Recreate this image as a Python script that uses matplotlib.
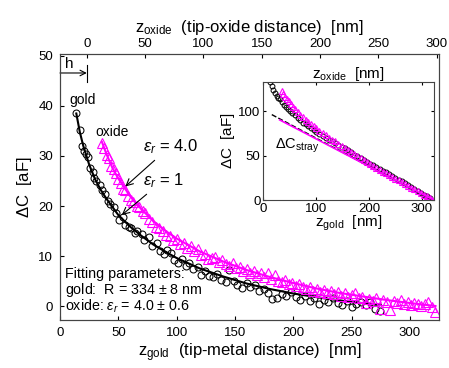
import matplotlib
matplotlib.use("Agg")
import matplotlib.pyplot as plt

plt.rcParams['font.family'] = ['Liberation Sans', 'DejaVu Sans']
plt.rcParams['mathtext.fontset'] = 'custom'
plt.rcParams['mathtext.rm'] = 'Liberation Sans'
plt.rcParams['mathtext.it'] = 'Liberation Sans:italic'
plt.rcParams['mathtext.bf'] = 'Liberation Sans:bold'

MAGENTA = '#ff00ff'

# main panel: measured points (z_gold in nm, dC in aF)
gold_x = [14, 17, 19, 21, 22, 24, 26, 28, 29, 31, 34, 36, 39, 41, 43, 46, 48, 51, 54, 56,
          59, 61, 64, 66, 70, 72, 76, 79, 83, 86, 89, 92, 95, 98, 101, 105, 108, 111, 114, 118,
          121, 124, 128, 131, 135, 138, 142, 145, 149, 152, 156, 160, 163, 167, 171, 175, 178, 182, 186, 190,
          194, 198, 202, 206, 210, 214, 218, 222, 226, 230, 234, 238, 242, 246, 250, 254, 258, 262, 266, 270, 274]
gold_y = [38.5, 35.2, 32.0, 31.0, 30.4, 29.8, 27.5, 26.8, 25.5, 25.0, 24.2, 23.2, 22.3, 21.0, 20.4, 19.8, 18.6, 17.2, 17.8, 16.2,
          15.9, 15.6, 14.6, 15.1, 14.4, 13.2, 13.8, 12.0, 12.6, 11.0, 10.4, 11.2, 10.6, 9.2, 8.6, 9.4, 8.0, 8.7, 7.4, 7.8,
          6.2, 7.0, 6.1, 5.8, 6.5, 5.2, 4.8, 7.3, 5.1, 4.2, 3.6, 4.6, 3.8, 4.2, 3.0, 3.5, 2.6, 1.4, 1.6, 2.4,
          2.0, 2.9, 1.8, 1.2, 2.1, 1.0, 1.6, 0.4, 1.2, 0.9, 1.6, 0.6, 0.2, 1.1, -0.2, 0.5, 0.9, 0.3, 0.8, -0.6, -0.9]

oxide_x = [36, 38, 40, 42, 44, 46, 48, 50, 52, 54, 56, 58, 61, 63, 66, 68, 71, 73, 76, 79,
           82, 85, 88, 91, 94, 97, 100, 103, 106, 109, 112, 115, 118, 121, 124, 127, 130, 133, 136, 139,
           142, 145, 148, 151, 154, 157, 160, 163, 166, 169, 172, 175, 178, 181, 184, 187, 190, 193, 196, 199,
           202, 205, 208, 211, 214, 217, 220, 223, 226, 229, 232, 235, 238, 241, 244, 247, 250, 253, 256, 259,
           262, 265, 268, 271, 274, 277, 280, 283, 286, 289, 292, 295, 298, 301, 304, 307, 310, 313, 316, 319, 322]
oxide_y = [32.6, 31.5, 30.2, 29.6, 28.0, 27.4, 26.6, 25.4, 24.6, 23.4, 23.2, 22.0, 21.2, 20.8, 20.0, 19.8, 19.0, 18.6, 17.5, 16.8,
           15.9, 15.6, 15.1, 14.3, 14.0, 13.2, 13.4, 12.4, 12.6, 11.6, 12.0, 11.0, 11.4, 10.2, 10.4, 9.4, 9.6, 9.9, 8.8, 9.2,
           8.4, 8.0, 8.6, 7.6, 7.9, 7.0, 7.4, 6.6, 7.0, 6.2, 6.6, 5.8, 6.6, 5.4, 6.2, 5.0, 4.8, 5.2, 4.4, 4.6,
           4.0, 4.4, 3.8, 3.4, 3.9, 3.0, 3.5, 2.8, 3.2, 2.6, 3.0, 2.4, 2.8, 2.0, 2.6, 1.8, 2.2, 2.6, 1.6, 1.8,
           0.6, 1.4, 1.0, 1.6, -0.6, 1.2, 0.8, -0.8, 1.0, 0.6, 1.2, 0.4, 0.8, 0.2, 0.6, 0.4, 0.0, 0.4, 0.8, -0.1, -1.1]

# fitted curves
gold_fit_x = [14, 17, 20, 25, 30, 35, 40, 50, 60, 70, 80, 90, 100, 120, 140, 160, 180, 200, 225, 250, 275]
gold_fit_y = [38.5, 34.8, 32.0, 28.3, 25.4, 23.2, 21.4, 18.2, 15.9, 14.0, 12.3, 10.9, 9.6, 7.5, 5.9, 4.5, 3.4, 2.5, 1.6, 0.8, 0.2]
oxide_fit_x = [36, 40, 45, 50, 60, 70, 80, 90, 100, 120, 140, 160, 180, 200, 220, 240, 260, 280, 300, 322]
oxide_fit_y = [32.8, 30.3, 27.6, 25.5, 22.0, 19.3, 17.0, 15.1, 13.5, 10.9, 8.9, 7.2, 5.8, 4.6, 3.5, 2.6, 1.9, 1.2, 0.6, 0.0]

# inset: raw data incl. stray capacitance
in_gold_x = [13, 16, 19, 22, 25, 28, 31, 35, 39, 43, 47, 51, 55, 60, 65, 70, 75, 80, 85, 90,
             95, 100, 106, 112, 118, 124, 130, 136, 142, 148, 154, 160, 166, 172, 178, 184, 190, 196, 202, 208,
             214, 220, 226, 232, 238, 244, 250, 256, 262, 268, 274, 280, 286, 292, 298, 304, 310, 316]
in_gold_y = [133, 128, 124, 120, 117, 115, 113, 110, 107, 105, 102, 100, 98, 95, 92, 90, 87, 85, 83, 81,
             79, 77, 74, 72, 70, 68, 66, 64, 62, 60, 58, 56, 54, 51, 49, 47, 45, 43, 41, 39,
             37, 35, 33, 31, 29, 27, 25, 23, 21, 19, 17, 15, 12, 10, 8, 6, 4, 2]
in_oxide_x = [35, 38, 41, 44, 48, 52, 56, 60, 65, 70, 75, 80, 85, 90, 95, 100, 106, 112, 118, 124,
              130, 136, 142, 148, 154, 160, 166, 172, 178, 184, 190, 196, 202, 208, 214, 220, 226, 232, 238, 244,
              250, 256, 262, 268, 274, 280, 286, 292, 298, 304, 310, 316, 320]
in_oxide_y = [122, 119, 116, 114, 111, 108, 105, 102, 99, 96, 93, 90, 88, 85, 83, 81, 78, 75, 73, 70,
              68, 66, 63, 61, 59, 56, 54, 52, 49, 47, 45, 43, 41, 38, 36, 34, 32, 30, 28, 26,
              24, 22, 20, 18, 16, 14, 12, 10, 8, 6, 4, 2, 0.5]
stray_gold_x = [16, 320]
stray_gold_y = [96, 0]
stray_oxide_x = [31, 322]
stray_oxide_y = [90, 0]

h_offset = 23  # z_oxide = z_gold - h

fig = plt.figure(figsize=(4.49, 3.68), dpi=100)
ax = fig.add_axes([0.1336, 0.1304, 0.8441, 0.7229])

ax.plot(gold_x, gold_y, 'o', mfc='none', mec='black', ms=5, mew=0.75)
ax.plot(gold_fit_x, gold_fit_y, '-', color='black', lw=1.5)
ax.plot(oxide_x, oxide_y, '^', mfc='none', mec=MAGENTA, ms=6.5, mew=0.8)
ax.plot(oxide_fit_x, oxide_fit_y, '-', color=MAGENTA, lw=1.5)

ax.set_xlim(0, 325)
ax.set_ylim(-2.8, 50.4)
ax.set_xticks([0, 50, 100, 150, 200, 250, 300])
ax.set_yticks([0, 10, 20, 30, 40, 50])
ax.tick_params(direction='in', labelsize=9.5, length=3, pad=5)
ax.set_xlabel("z$_{\\mathrm{gold}}$  (tip-metal distance)  [nm]", fontsize=12, labelpad=2)
ax.set_ylabel("$\\Delta$C  [aF]", fontsize=12, labelpad=3)

top = ax.twiny()
top.set_xlim(0 - h_offset, 325 - h_offset)
top.set_xticks([0, 50, 100, 150, 200, 250, 300])
top.tick_params(direction='in', labelsize=9.5, length=3, pad=3)
top.set_xlabel("z$_{\\mathrm{oxide}}$  (tip-oxide distance)  [nm]", fontsize=12, labelpad=4)

# h marker
ax.annotate("", xy=(h_offset, 46.6), xytext=(0, 46.6),
            arrowprops=dict(arrowstyle='->', color='black', lw=0.8, shrinkA=0, shrinkB=0))
ax.plot([h_offset, h_offset], [44.8, 48.2], color='black', lw=0.8)
ax.text(4, 47.0, "h", fontsize=11, va='bottom')

ax.text(8, 40.4, "gold", fontsize=10)
ax.text(30, 34.0, "oxide", fontsize=10)
ax.annotate("$\\varepsilon_r$ = 4.0", xy=(56, 23.9), xytext=(71, 31.0), fontsize=12,
            arrowprops=dict(arrowstyle='->', color='black', lw=0.8, shrinkA=2, shrinkB=0))
ax.annotate("$\\varepsilon_r$ = 1", xy=(53, 18.2), xytext=(71, 24.2), fontsize=12,
            arrowprops=dict(arrowstyle='->', color='black', lw=0.8, shrinkA=2, shrinkB=0))

ax.text(4, 5.6, "Fitting parameters:", fontsize=10.3)
ax.text(4, 2.4, "gold:  R = 334 $\\pm$ 8 nm", fontsize=10.3)
ax.text(4, -0.9, "oxide: $\\varepsilon_r$ = 4.0 $\\pm$ 0.6", fontsize=10.3)

# inset
ins = fig.add_axes([0.5865, 0.4565, 0.3801, 0.3215])
ins.plot(in_gold_x, in_gold_y, 'o', mfc='none', mec='black', ms=3.5, mew=0.7)
ins.plot(in_oxide_x, in_oxide_y, '^', mfc='none', mec=MAGENTA, ms=4.5, mew=0.8)
ins.plot(stray_gold_x, stray_gold_y, '--', color='black', lw=1.0)
ins.plot(stray_oxide_x, stray_oxide_y, '-', color=MAGENTA, lw=1.2)
ins.set_xlim(0, 323)
ins.set_ylim(0, 133)
ins.set_xticks([0, 100, 200, 300])
ins.set_yticks([0, 50, 100])
ins.tick_params(direction='in', labelsize=9.5, length=2.5, pad=2, top=True, right=True)
ins.set_xlabel("z$_{\\mathrm{gold}}$  [nm]", fontsize=11, labelpad=-1)
ins.set_ylabel("$\\Delta$C  [aF]", fontsize=11, labelpad=1)
ins.set_title("z$_{\\mathrm{oxide}}$  [nm]", fontsize=11, pad=3)
ins.text(22, 58, "$\\Delta$C$_{\\mathrm{stray}}$", fontsize=10.5)

for a in (ax, top, ins):
    for s in a.spines.values():
        s.set_color('#444444')

fig.savefig("out.png", dpi=100)
